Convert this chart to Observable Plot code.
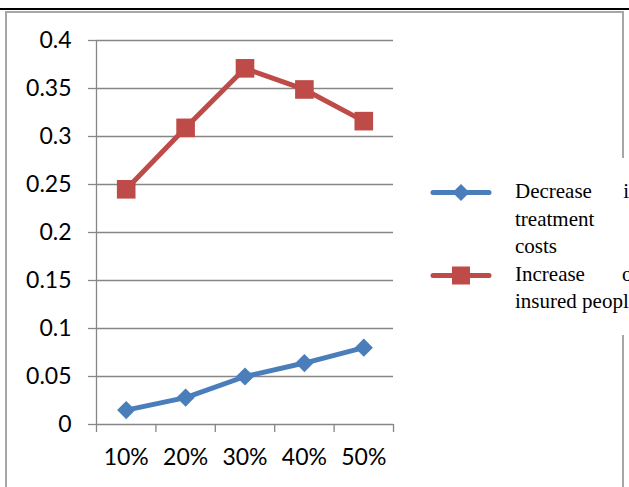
<!DOCTYPE html>
<html>
<head>
<meta charset="utf-8">
<script src="https://cdn.jsdelivr.net/npm/d3@7"></script>
<script src="https://cdn.jsdelivr.net/npm/@observablehq/plot@0.6"></script>
<style>
  html, body { margin: 0; padding: 0; background: #fff; overflow: hidden; }
  #wrap { position: relative; width: 629px; height: 487px; overflow: hidden; }
  #chart { position: absolute; left: 0; top: 0; }
  #chart svg text { font-size: 23px; font-family: Lato, "Open Sans", sans-serif; }
  .topline { position: absolute; left: 0; top: 8px; width: 629px; height: 2px; background: #000; }
  .frame { position: absolute; left: 5px; top: 11px; width: 619px; height: 500px; border: 2px solid #a6a6a6; box-sizing: border-box; }
  #legend { position: absolute; left: 430px; top: 158px; width: 240px; height: 177px; background: #fff; }
  .item { position: absolute; left: 0; }
  .ltext { position: absolute; left: 85px; width: 124.5px; font-family: "Liberation Serif", "Times New Roman", serif;
           font-size: 21px; line-height: 27.5px; text-align: justify; color: #000; white-space: normal; }
</style>
</head>
<body>
<div id="wrap">
  <div class="frame"></div>
  <div class="topline"></div>
  <div id="chart"></div>
  <div id="legend"></div>
</div>
<script>
const categories = ["10%", "20%", "30%", "40%", "50%"];
const seriesNames = ["Decrease in treatment costs", "Increase of insured people"];
const decreaseTreatment = [0.015, 0.028, 0.050, 0.064, 0.080];
const increaseInsured = [0.245, 0.309, 0.371, 0.349, 0.316];
const yTicks = [0, 0.05, 0.1, 0.15, 0.2, 0.25, 0.3, 0.35, 0.4];
const colors = ["#4A7EBB", "#BE4B48"];

const rows = [];
categories.forEach((c, i) => {
  rows.push({series: seriesNames[0], cat: c, pos: i + 0.5, value: decreaseTreatment[i]});
  rows.push({series: seriesNames[1], cat: c, pos: i + 0.5, value: increaseInsured[i]});
});
const blue = rows.filter(d => d.series === seriesNames[0]);
const red = rows.filter(d => d.series === seriesNames[1]);
const bounds = d3.range(0, categories.length + 1);
const catPos = categories.map((c, i) => i + 0.5);

const chart = Plot.plot({
  width: 629,
  height: 487,
  marginLeft: 96,
  marginRight: 236,
  marginTop: 40,
  marginBottom: 63,
  style: {background: "transparent", fontFamily: "Lato, 'Open Sans', sans-serif", fontSize: "23px"},
  x: {type: "linear", domain: [0, categories.length]},
  y: {domain: [0, 0.4]},
  marks: [
    Plot.ruleY(yTicks.slice(1), {x1: 0, x2: categories.length, stroke: "#868686", strokeWidth: 1.3}),
    Plot.ruleX([0], {y1: 0, y2: 0.4, stroke: "#868686", strokeWidth: 1.3}),
    Plot.ruleY([0], {x1: 0, x2: categories.length, stroke: "#868686", strokeWidth: 1.3}),
    Plot.axisY({ticks: yTicks, tickSize: 8, tickPadding: 17, stroke: "#868686", strokeWidth: 1.3,
      tickFormat: d => String(+d.toFixed(2)), fontSize: 23, fill: "#000", label: null}),
    Plot.axisX({ticks: bounds, tickSize: 8, stroke: "#868686", strokeWidth: 1.3, tickFormat: () => "", label: null}),
    Plot.axisX({ticks: catPos, tickSize: 0, tickPadding: 24, tickFormat: (d) => categories[Math.round(d - 0.5)],
      fontSize: 23, fill: "#000", label: null}),
    Plot.line(red, {x: "pos", y: "value", stroke: colors[1], strokeWidth: 5}),
    Plot.dot(red, {x: "pos", y: "value", symbol: "square", r: 10.5, fill: colors[1], stroke: "none"}),
    Plot.line(blue, {x: "pos", y: "value", stroke: colors[0], strokeWidth: 5}),
    Plot.dot(blue, {x: "pos", y: "value", symbol: "diamond2", r: 8.2, fill: colors[0], stroke: "none"})
  ]
});
document.getElementById("chart").appendChild(chart);

// legend
const legend = document.getElementById("legend");
const entries = [
  {name: seriesNames[0], color: colors[0], symbol: "diamond", top: 20},
  {name: seriesNames[1], color: colors[1], symbol: "square", top: 102.5}
];
entries.forEach(e => {
  const item = document.createElement("div");
  item.className = "item";
  item.style.top = e.top + "px";
  const svg = d3.create("svg").attr("width", 70).attr("height", 28);
  svg.append("line").attr("x1", 3).attr("x2", 59).attr("y1", 14.5).attr("y2", 14.5)
    .attr("stroke", e.color).attr("stroke-width", 5).attr("stroke-linecap", "round");
  if (e.symbol === "diamond") {
    svg.append("path").attr("d", "M31,6 L39.5,14.5 L31,23 L22.5,14.5 Z").attr("fill", e.color);
  } else {
    svg.append("rect").attr("x", 22).attr("y", 5.5).attr("width", 18).attr("height", 18).attr("fill", e.color);
  }
  item.appendChild(svg.node());
  legend.appendChild(item);
  const t = document.createElement("div");
  t.className = "ltext";
  t.style.top = e.top + "px";
  t.textContent = e.name;
  legend.appendChild(t);
});
</script>
</body>
</html>
